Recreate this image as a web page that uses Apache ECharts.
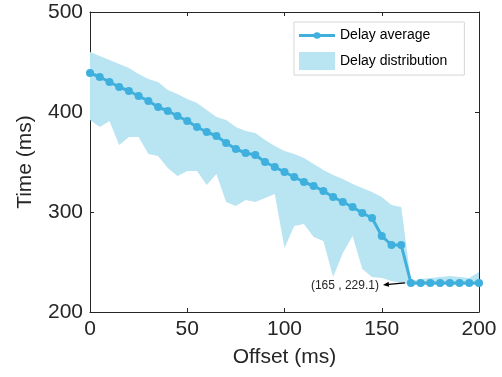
<!DOCTYPE html>
<html><head><meta charset="utf-8">
<script src="https://cdn.jsdelivr.net/npm/echarts@6/dist/echarts.min.js"></script>
<style>html,body{margin:0;padding:0;background:#fff}#c{width:502px;height:377px}</style>
</head><body><div id="c"></div>
<script>
const offsets = [0,5,10,15,20,25,30,35,40,45,50,55,60,65,70,75,80,85,90,95,100,105,110,115,120,125,130,135,140,145,150,155,160,165,170,175,180,185,190,195,200];
const delayAverage = [439,435,430,425,421,416,411,405,401,396,391,385,380,376,369,363,359,357,350,345,340,335,330,326,321,315,310,305,299,294,276,267,267,229.1,229,229,229,229,229,229,229];
const delayUpper = [460,456,452,448,444,438,433,430,422,418,413,409,402,395,392,385,381,379,372,366,361,358,354,348,342,337,333,328,324,320,315,307,305,231,233,234,235,236,235,234,240];
const delayLower = [392,385,391,367,375,375,358,356,344,336,341,341,327,338,310,306,312,310,314,318,264,286,288,275,271,235,259,276,243,235,234,231,229,227,227,227,227,227,227,227,227];
const xTicks = [0,50,100,150,200];
const annotatePoint = [165, 229.1];

const lineColor = '#3fb0dd';
const bandColor = '#b9e4f2';
const axisColor = '#262626';
const font = 'Liberation Sans, Arial, sans-serif';
const lineLegendIcon = 'path://M0,0L0.01,0L0.01,0.01ZM38,18L37.99,18L37.99,17.99ZM0,7.5L38,7.5L38,10.5L0,10.5ZM22.5,9A3.5,3.5 0 1 1 15.5,9A3.5,3.5 0 1 1 22.5,9Z';

const chart = echarts.init(document.getElementById('c'), null, {renderer:'canvas'});
const axisBase = {
  axisLine:{show:true, onZero:false, lineStyle:{color:axisColor, width:1}},
  axisTick:{show:true, inside:true, length:4, lineStyle:{color:axisColor}},
  splitLine:{show:false}
};
chart.setOption({
  animation:false,
  backgroundColor:'#fff',
  grid:{left:90, right:23, top:12, bottom:65, containLabel:false},
  legend:{
    orient:'vertical', left:294, top:22,
    padding:[5,17,5,5], itemGap:8, itemWidth:36, itemHeight:18,
    backgroundColor:'#fff', borderColor:'#d6d6d6', borderWidth:1, borderRadius:0,
    textStyle:{fontFamily:font, fontSize:14, color:'#000'},
    data:[{name:'Delay average', icon:lineLegendIcon, itemStyle:{color:lineColor, borderWidth:0}},
          {name:'Delay distribution', icon:'rect'}]
  },
  xAxis:[
    Object.assign({type:'value', min:0, max:200, interval:50, position:'bottom',
      name:'Offset (ms)', nameLocation:'middle', nameGap:35,
      nameTextStyle:{fontFamily:font, fontSize:21, color:axisColor},
      axisLabel:{fontFamily:font, fontSize:21, color:axisColor, margin:7,
        customValues:xTicks}}, axisBase),
    Object.assign({type:'value', min:0, max:200, interval:50, position:'top',
      axisLabel:{show:false}}, axisBase)
  ],
  yAxis:[
    Object.assign({type:'value', min:200, max:500, interval:100, position:'left',
      name:'Time (ms)', nameLocation:'middle', nameGap:54, nameRotate:90,
      nameTextStyle:{fontFamily:font, fontSize:21, color:axisColor},
      axisLabel:{fontFamily:font, fontSize:21, color:axisColor, margin:7}}, axisBase),
    Object.assign({type:'value', min:200, max:500, interval:100, position:'right',
      axisLabel:{show:false}}, axisBase)
  ],
  series:[
    {
      type:'custom', name:'Delay distribution', silent:true, z:1,
      itemStyle:{color:bandColor},
      data: offsets.map((x,i)=>[x, delayLower[i], delayUpper[i]]),
      encode:{x:0, y:[1,2]},
      renderItem:function(params, api){
        if (params.dataIndex !== 0) return null;
        const pts = [];
        for (let i=0;i<offsets.length;i++) pts.push(api.coord([offsets[i], delayUpper[i]]));
        for (let i=offsets.length-1;i>=0;i--) pts.push(api.coord([offsets[i], delayLower[i]]));
        return {type:'polygon', shape:{points:pts}, style:{fill:bandColor, stroke:null}};
      }
    },
    {
      type:'line', name:'Delay average', z:3,
      data: offsets.map((x,i)=>[x, delayAverage[i]]),
      symbol:'circle', symbolSize:8, showAllSymbol:true,
      itemStyle:{color:lineColor},
      lineStyle:{color:lineColor, width:3}
    }
  ]
});

const p = chart.convertToPixel({gridIndex:0}, annotatePoint);
const sx = p[0]-6, sy = p[1], ex = p[0]-28, ey = p[1]+2;
const ang = Math.atan2(ey-sy, ex-sx);
const ah = 6, aw = 2.5;
const bx = ex - Math.cos(ang)*ah, by = ey - Math.sin(ang)*ah;
const nx = -Math.sin(ang), ny = Math.cos(ang);
chart.setOption({
  graphic:[
    {type:'line', shape:{x1:sx, y1:sy, x2:bx, y2:by}, style:{stroke:'#000', lineWidth:1.2}, z:10},
    {type:'polygon', shape:{points:[[ex,ey],[bx+nx*aw,by+ny*aw],[bx-nx*aw,by-ny*aw]]}, style:{fill:'#000'}, z:10},
    {type:'text', x:ex-4, y:ey+1, style:{text:'(' + annotatePoint[0] + ' , ' + annotatePoint[1] + ')', fontFamily:font, fontSize:12, fill:axisColor, align:'right', verticalAlign:'middle'}, z:10}
  ]
});
</script></body></html>
